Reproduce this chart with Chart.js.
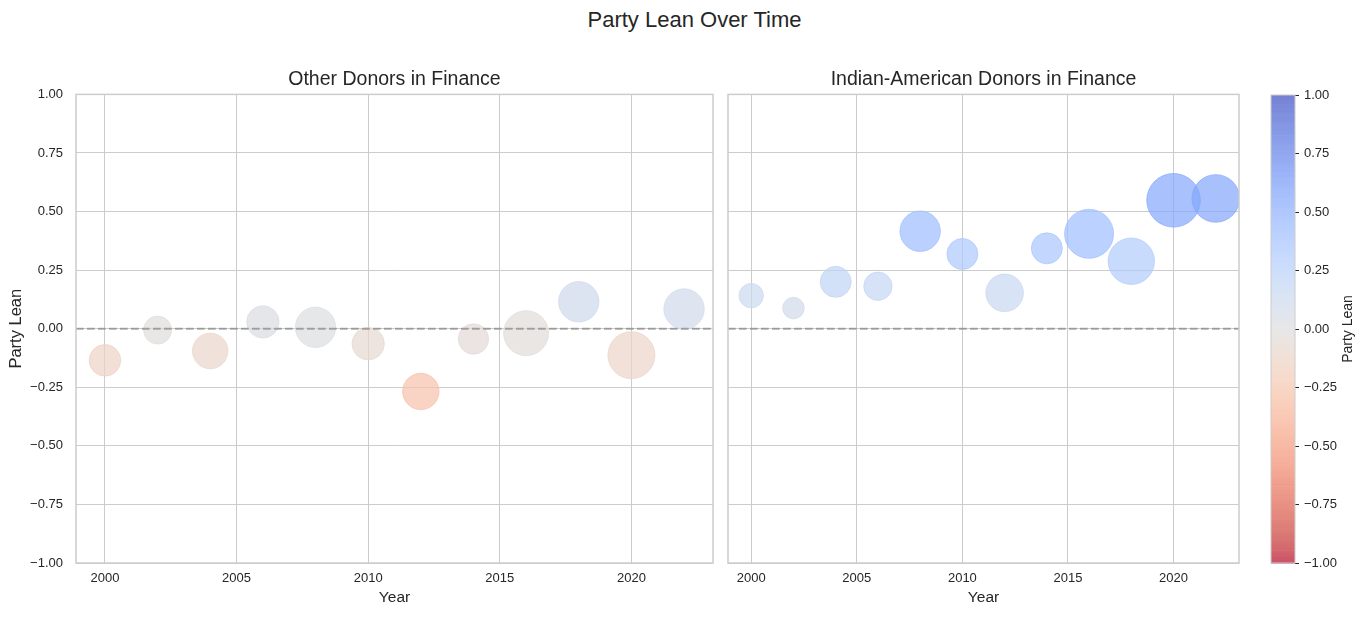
<!DOCTYPE html>
<html>
<head>
<meta charset="utf-8">
<title>Party Lean Over Time</title>
<script src="https://cdn.jsdelivr.net/npm/chart.js@4.4.0/dist/chart.umd.min.js"></script>
<style>
  html, body { margin: 0; padding: 0; background: #fff; }
  body { width: 1368px; height: 617px; position: relative; overflow: hidden; font-family: "Liberation Sans", Arial, sans-serif; }
  .layer { position: absolute; left: 0; top: 0; width: 1368px; height: 617px; }
  #suptitle { position: absolute; left: 0; top: 7px; width: 1389px; text-align: center; font-size: 22px; line-height: 26px; color: #262626; }
</style>
</head>
<body>
<div id="suptitle">Party Lean Over Time</div>
<div class="layer"><canvas id="otherChart" width="1368" height="617"></canvas></div>
<div class="layer"><canvas id="indianChart" width="1368" height="617"></canvas></div>
<div class="layer"><canvas id="colorbarChart" width="1368" height="617"></canvas></div>
<script>
// data
const years = [2000, 2002, 2004, 2006, 2008, 2010, 2012, 2014, 2016, 2018, 2020, 2022];
const otherLean = [-0.135, -0.006, -0.095, 0.029, 0.006, -0.064, -0.268, -0.044, -0.019, 0.115, -0.113, 0.084];
const otherSize = [15.8, 14.0, 17.8, 16.2, 20.2, 16.2, 18.2, 15.2, 22.5, 20.2, 23.5, 20.2];
const indianLean = [0.141, 0.088, 0.200, 0.181, 0.416, 0.319, 0.153, 0.343, 0.405, 0.288, 0.548, 0.556];
const indianSize = [12.2, 10.8, 15.5, 14.2, 20.2, 15.5, 18.8, 15.5, 24.5, 23.2, 26.8, 23.8];
const xTicks = [2000, 2005, 2010, 2015, 2020];
const yTicks = [-1, -0.75, -0.5, -0.25, 0, 0.25, 0.5, 0.75, 1];
const xRange = [1998.9, 2023.1];
const leanRange = [-1, 1];
const refLine = 0;

const textColor = '#262626';
const gridColor = '#cccccc';
const fontFamily = '"Liberation Sans", Arial, sans-serif';
const alpha = 0.7;

// coolwarm control points (reversed on use: positive = blue)
const coolwarm = [
  [59,76,192],[68,90,204],[77,104,215],[87,117,225],[98,130,234],[108,142,241],[119,154,247],[130,165,251],
  [141,176,254],[152,185,255],[163,194,255],[174,201,253],[184,208,249],[194,213,244],[204,217,238],[213,219,230],
  [221,221,221],[229,216,209],[236,211,197],[241,204,184],[245,196,172],[247,187,160],[247,177,148],[247,166,135],
  [244,154,123],[241,141,112],[236,127,99],[229,112,88],[222,96,77],[213,80,66],[203,62,56],[192,40,47],[180,4,38]
];

function leanRgb(v) {
  const t = 1 - (v - leanRange[0]) / (leanRange[1] - leanRange[0]);
  const pos = Math.max(0, Math.min(1, t)) * (coolwarm.length - 1);
  const i = Math.min(Math.floor(pos), coolwarm.length - 2);
  const f = pos - i;
  return [0, 1, 2].map(k => coolwarm[i][k] + (coolwarm[i + 1][k] - coolwarm[i][k]) * f);
}

function leanColor(v, a) {
  const c = leanRgb(v).map(Math.round);
  return `rgba(${c[0]},${c[1]},${c[2]},${a})`;
}

// same colour already blended on white (for the colorbar strips)
function leanColorFlat(v, a) {
  const c = leanRgb(v).map(x => Math.round(x * a + 255 * (1 - a)));
  return `rgb(${c[0]},${c[1]},${c[2]})`;
}

function fmtLean(v) {
  return Number(v).toFixed(2).replace('-', '\u2212');
}

const frame = {
  id: 'frame',
  afterDatasetsDraw(chart) {
    const { ctx, chartArea: a } = chart;
    ctx.save();
    ctx.strokeStyle = gridColor;
    ctx.lineWidth = 1.5;
    ctx.strokeRect(a.left, a.top, a.right - a.left, a.bottom - a.top);
    ctx.restore();
  }
};

const zeroLine = {
  id: 'zeroLine',
  afterDatasetsDraw(chart) {
    const { ctx, chartArea: a, scales } = chart;
    const y = scales.y.getPixelForValue(refLine);
    ctx.save();
    ctx.strokeStyle = 'rgba(128,128,128,0.65)';
    ctx.lineWidth = 2;
    ctx.setLineDash([7.7, 3.3]);
    ctx.beginPath();
    ctx.moveTo(a.left, y);
    ctx.lineTo(a.right, y);
    ctx.stroke();
    ctx.restore();
  }
};

function bubbleChart(id, title, lean, size, pad, showY) {
  const ctx = document.getElementById(id).getContext('2d');
  return new Chart(ctx, {
    type: 'bubble',
    data: {
      datasets: [{
        data: years.map((yr, i) => ({ x: yr, y: lean[i], r: size[i] })),
        backgroundColor: lean.map(v => leanColor(v, alpha)),
        borderColor: lean.map(v => leanColor(v, alpha)),
        borderWidth: 1
      }]
    },
    options: {
      responsive: false,
      animation: false,
      events: [],
      layout: { padding: pad },
      plugins: {
        legend: { display: false },
        tooltip: { enabled: false },
        title: {
          display: true,
          text: title,
          fullSize: false,
          color: textColor,
          font: { family: fontFamily, size: 19.5, weight: 'normal' },
          padding: { top: 0, bottom: 3 }
        }
      },
      scales: {
        x: {
          type: 'linear',
          min: xRange[0],
          max: xRange[1],
          afterBuildTicks: s => { s.ticks = xTicks.map(v => ({ value: v })); },
          afterFit: s => { s.height = 54; },
          grid: { color: gridColor, lineWidth: 1, drawTicks: false },
          border: { display: false },
          ticks: { color: textColor, padding: 8, font: { family: fontFamily, size: 13 }, callback: v => String(v) },
          title: { display: true, text: 'Year', color: textColor, font: { family: fontFamily, size: 15.5 }, padding: { top: 0, bottom: 10 } }
        },
        y: {
          min: leanRange[0],
          max: leanRange[1],
          afterBuildTicks: s => { s.ticks = yTicks.map(v => ({ value: v })); },
          afterFit: s => { s.width = showY ? 76 : 0; },
          grid: { color: gridColor, lineWidth: 1, drawTicks: false },
          border: { display: false },
          ticks: { display: showY, color: textColor, padding: 13, font: { family: fontFamily, size: 13 }, callback: v => fmtLean(v) },
          title: { display: showY, text: 'Party Lean', color: textColor, font: { family: fontFamily, size: 16.5 }, padding: { top: 7, bottom: 0 } }
        }
      }
    },
    plugins: [zeroLine, frame]
  });
}

bubbleChart('otherChart', 'Other Donors in Finance', otherLean, otherSize,
  { left: 0, right: 655, top: 68, bottom: 0 }, true);
bubbleChart('indianChart', 'Indian-American Donors in Finance', indianLean, indianSize,
  { left: 728, right: 129, top: 68, bottom: 0 }, false);

// colorbar
const colorbarFill = {
  id: 'colorbarFill',
  beforeDatasetsDraw(chart) {
    const { ctx, chartArea: a, scales } = chart;
    const steps = 256;
    ctx.save();
    for (let i = 0; i < steps; i++) {
      const lo = leanRange[0] + (leanRange[1] - leanRange[0]) * i / steps;
      const hi = leanRange[0] + (leanRange[1] - leanRange[0]) * (i + 1) / steps;
      const y1 = scales.y.getPixelForValue(hi);
      const y2 = scales.y.getPixelForValue(lo);
      ctx.fillStyle = leanColorFlat((lo + hi) / 2, alpha);
      ctx.fillRect(a.left, y1, a.right - a.left, y2 - y1 + 0.6);
    }
    ctx.restore();
  },
  afterDraw(chart) {
    const { ctx, chartArea: a } = chart;
    ctx.save();
    ctx.strokeStyle = gridColor;
    ctx.lineWidth = 1;
    ctx.strokeRect(a.left, a.top, a.right - a.left, a.bottom - a.top);
    ctx.translate(1348, (a.top + a.bottom) / 2);
    ctx.rotate(-Math.PI / 2);
    ctx.fillStyle = textColor;
    ctx.font = '14px ' + fontFamily;
    ctx.textAlign = 'center';
    ctx.textBaseline = 'middle';
    ctx.fillText('Party Lean', 0, 0);
    ctx.restore();
  }
};

new Chart(document.getElementById('colorbarChart').getContext('2d'), {
  type: 'scatter',
  data: { datasets: [{ data: [] }] },
  options: {
    responsive: false,
    animation: false,
    events: [],
    layout: { padding: { left: 1271, right: 0, top: 95, bottom: 54 } },
    plugins: { legend: { display: false }, tooltip: { enabled: false } },
    scales: {
      x: { display: false, min: 0, max: 1 },
      y: {
        position: 'right',
        min: leanRange[0],
        max: leanRange[1],
        afterBuildTicks: s => { s.ticks = yTicks.map(v => ({ value: v })); },
        afterFit: s => { s.width = 73; },
        grid: { display: true, drawOnChartArea: false, drawTicks: true, tickLength: 4, color: textColor, lineWidth: 1 },
        border: { display: false },
        ticks: { color: textColor, padding: 5, font: { family: fontFamily, size: 13 }, callback: v => fmtLean(v) }
      }
    }
  },
  plugins: [colorbarFill]
});
</script>
</body>
</html>
